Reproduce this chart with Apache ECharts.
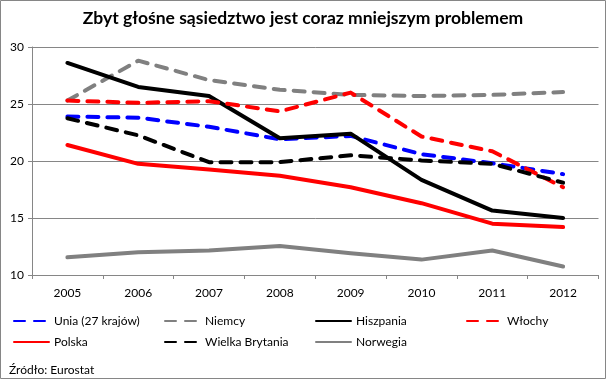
<!DOCTYPE html>
<html>
<head>
<meta charset="utf-8">
<script src="https://cdn.jsdelivr.net/npm/echarts@6/dist/echarts.min.js"></script>
<style>
html,body{margin:0;padding:0;background:#fff;}
#c{width:606px;height:379px;}
</style>
</head>
<body>
<div id="c"></div>
<script>
const years = ['2005','2006','2007','2008','2009','2010','2011','2012'];
const unia = [23.9, 23.8, 23.0, 21.9, 22.2, 20.6, 19.8, 18.85];
const niemcy = [25.3, 28.8, 27.1, 26.25, 25.8, 25.7, 25.8, 26.05];
const hiszpania = [28.6, 26.5, 25.7, 22.0, 22.4, 18.35, 15.65, 15.0];
const wlochy = [25.3, 25.1, 25.25, 24.35, 26.0, 22.15, 20.85, 17.7];
const polska = [21.4, 19.75, 19.25, 18.7, 17.7, 16.3, 14.5, 14.2];
const wielkaBrytania = [23.75, 22.25, 19.9, 19.9, 20.5, 20.05, 19.75, 18.1];
const norwegia = [11.55, 12.0, 12.15, 12.55, 11.9, 11.35, 12.15, 10.75];
const yTicks = [10, 15, 20, 25, 30];

const FONT = 'Lato, "Open Sans", sans-serif';
const dash = [11, 9];

const seriesDefs = [
  {name: 'Unia (27 krajów)', data: unia, color: '#0000FF', type: dash},
  {name: 'Niemcy', data: niemcy, color: '#808080', type: dash},
  {name: 'Hiszpania', data: hiszpania, color: '#000000', type: 'solid'},
  {name: 'Włochy', data: wlochy, color: '#FF0000', type: dash},
  {name: 'Polska', data: polska, color: '#FF0000', type: 'solid'},
  {name: 'Wielka Brytania', data: wielkaBrytania, color: '#000000', type: dash},
  {name: 'Norwegia', data: norwegia, color: '#808080', type: 'solid'}
];

const legendPos = [
  [13, 322], [164, 322], [315, 322], [466, 322],
  [13, 343], [164, 343], [315, 343]
];

const chart = echarts.init(document.getElementById('c'), null, {renderer: 'canvas'});
chart.setOption({
  animation: false,
  backgroundColor: '#fff',
  title: [{
    text: 'Zbyt głośne sąsiedztwo jest coraz mniejszym problemem',
    left: 'center', top: 9, padding: 0,
    textStyle: {fontFamily: FONT, fontWeight: 'bold', fontSize: 17.5, color: '#000'}
  }, {
    text: 'Źródło: Eurostat',
    left: 9, top: 364, padding: 0,
    textStyle: {fontFamily: FONT, fontWeight: 'normal', fontSize: 12, color: '#000'}
  }],
  legend: seriesDefs.map((s, i) => ({
    data: [s.name],
    left: legendPos[i][0],
    top: legendPos[i][1] - 7,
    padding: 0,
    itemWidth: 35,
    itemHeight: 14,
    itemStyle: {opacity: 0, borderWidth: 0},
    textStyle: {fontFamily: FONT, fontSize: 12, color: '#000'}
  })),
  grid: {left: 32, top: 47, right: 7.5, bottom: 104, containLabel: false},
  xAxis: {
    type: 'category',
    data: years,
    boundaryGap: true,
    axisLine: {lineStyle: {color: '#868686', width: 1}},
    axisTick: {show: true, length: 4, alignWithLabel: false, lineStyle: {color: '#868686'}},
    axisLabel: {fontFamily: FONT, fontSize: 12, color: '#000', margin: 12}
  },
  yAxis: {
    type: 'value',
    min: 10, max: 30, interval: 5,
    axisLine: {show: true, lineStyle: {color: '#868686', width: 1}},
    axisTick: {show: true, length: 4, lineStyle: {color: '#868686'}},
    splitLine: {lineStyle: {color: '#868686', width: 1}},
    axisLabel: {fontFamily: FONT, fontSize: 12, color: '#000', margin: 8,
      formatter: v => yTicks.includes(v) ? String(v) : ''}
  },
  series: seriesDefs.map(s => ({
    name: s.name,
    type: 'line',
    data: s.data,
    symbol: 'none',
    color: s.color,
    lineStyle: {color: s.color, width: 4, type: s.type, cap: 'round', join: 'round'}
  })),
  graphic: [{
    type: 'rect',
    shape: {x: 0.5, y: 0.5, width: 605, height: 378},
    style: {fill: 'none', stroke: '#868686', lineWidth: 1},
    silent: true
  }]
});
</script>
</body>
</html>
